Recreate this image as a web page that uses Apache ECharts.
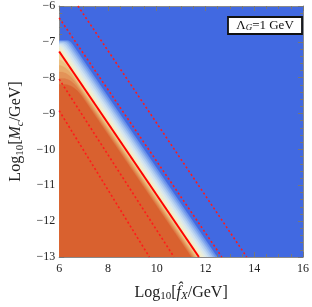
<!DOCTYPE html>
<html>
<head>
<meta charset="utf-8">
<script src="https://cdn.jsdelivr.net/npm/echarts@6/dist/echarts.min.js"></script>
<style>html,body{margin:0;padding:0;background:#fff}#c{width:312px;height:307px}</style>
</head>
<body>
<div id="c"></div>
<script>
// ---- data ----
const xRange = [6, 16];
const yRange = [-13, -6];
// solid red line and dashed red lines (endpoints in data units)
const solidLine = [[6, -7.27], [11.73, -13]];
const dashedUpper2 = [[6.77, -6], [13.69, -13]];
const dashedUpper1 = [[6, -6.33], [12.67, -13]];
const dashedLower1 = [[6, -8.04], [10.71, -13]];
const dashedLower2 = [[6, -8.92], [9.70, -13]];
// contour levels: diagonal offset from the solid line, flat level at the left, corner rounding
const lineIntercept = -1.27;
const contourOffsets = [0.75, 0.66, 0.57, 0.48, 0.39, 0.30, 0.21, 0.12, 0.04, -0.03, -0.08, -0.13, -0.19, -0.25, -0.31];
const contourFlats   = [-6.96, -6.98, -7.00, -7.03, -7.06, -7.09, -7.13, -7.17, -7.22, -7.35, -7.50, -7.66, -7.84, -8.02, -8.19];
const contourRound   = [0.12, 0.12, 0.12, 0.12, 0.12, 0.12, 0.12, 0.12, 0.12, 0.2, 0.25, 0.3, 0.33, 0.35, 0.38];
const contourColors  = ['#6891EA', '#86ABEE', '#A4C3F0', '#BDD6F1', '#D2E4F0', '#E2ECE6', '#EEEFD6', '#F5ECC4',
                        '#F6E3AE', '#F1D497', '#ECC080', '#E8AA6A', '#E39358', '#DE7B46', '#D9612F'];
const backgroundBlue = '#4169E1';
const legendText = ['Λ', 'G', '=1 GeV'];

// ---- build polygons ----
function contourPolygon(D, F, r) {
  const R = lineIntercept;
  const pts = [];
  const xc = R + D - F;
  if (xc <= xRange[0]) {
    pts.push([xRange[0], R + D - xRange[0]]);
  } else {
    const x0 = Math.max(xRange[0], xc - r);
    pts.push([xRange[0], F]);
    const p0 = [x0, F], p1 = [xc, F], p2 = [xc + r, F - r];
    for (let k = 0; k <= 12; k++) {
      const t = k / 12;
      const a = (1 - t) * (1 - t), b = 2 * (1 - t) * t, c = t * t;
      pts.push([a * p0[0] + b * p1[0] + c * p2[0], a * p0[1] + b * p1[1] + c * p2[1]]);
    }
  }
  const xb = R + D - yRange[0];
  if (xb <= xRange[1]) pts.push([xb, yRange[0]]);
  else { pts.push([xRange[1], R + D - xRange[1]]); pts.push([xRange[1], yRange[0]]); }
  pts.push([xRange[0], yRange[0]]);
  return pts;
}

const serif = 'Liberation Serif';
const minus = v => String(v).replace('-', '\u2212');

const chart = echarts.init(document.getElementById('c'));

const tickCommon = {
  axisLine: { show: true, lineStyle: { color: '#8a8a8a', width: 1 } },
  axisTick: { show: true, inside: true, length: 5, lineStyle: { color: '#777' } },
  splitLine: { show: false }
};

function redLine(data, dashed) {
  return {
    type: 'line', data: data, symbol: 'none', silent: true, z: 5, clip: true,
    lineStyle: dashed ? { color: '#FF1A1A', width: 1.6, type: [2, 2.5] } : { color: '#FF0000', width: 2 }
  };
}

const nameRich = {
  s: { fontFamily: serif, fontSize: 11, padding: [8, 0, 0, 0], color: '#222' },
  si: { fontFamily: serif, fontSize: 11, fontStyle: 'italic', padding: [8, 0, 0, 0], color: '#222' },
  i: { fontFamily: serif, fontSize: 16, fontStyle: 'italic', color: '#222' }
};

chart.setOption({
  animation: false,
  backgroundColor: '#fff',
  grid: { left: 45, right: 6, top: 6, bottom: 40, show: true, backgroundColor: backgroundBlue, borderWidth: 0 },
  xAxis: [
    Object.assign({}, tickCommon, {
      type: 'value', min: xRange[0], max: xRange[1], interval: 2, position: 'bottom',
      minorTick: { show: true, splitNumber: 4, length: 3, lineStyle: { color: '#777' } },
      axisLabel: { fontFamily: serif, fontSize: 12, color: '#222', margin: 6 },
      name: 'Log{s|10}[{i|f̂}{si|X}/GeV]', nameLocation: 'middle', nameGap: 26,
      nameTextStyle: { fontFamily: serif, fontSize: 16, color: '#222', rich: nameRich }
    }),
    Object.assign({}, tickCommon, {
      type: 'value', min: xRange[0], max: xRange[1], interval: 2, position: 'top',
      minorTick: { show: true, splitNumber: 4, length: 3, lineStyle: { color: '#777' } },
      axisLabel: { show: false }
    })
  ],
  yAxis: [
    Object.assign({}, tickCommon, {
      type: 'value', min: yRange[0], max: yRange[1], interval: 1, position: 'left',
      minorTick: { show: true, splitNumber: 5, length: 3, lineStyle: { color: '#777' } },
      axisLabel: { fontFamily: serif, fontSize: 12, color: '#222', margin: 4, formatter: minus },
      name: 'Log{s|10}[{i|M}{si|c}/GeV]', nameLocation: 'middle', nameGap: 30, nameRotate: 90,
      nameTextStyle: { fontFamily: serif, fontSize: 16, color: '#222', rich: nameRich }
    }),
    Object.assign({}, tickCommon, {
      type: 'value', min: yRange[0], max: yRange[1], interval: 1, position: 'right',
      minorTick: { show: true, splitNumber: 5, length: 3, lineStyle: { color: '#777' } },
      axisLabel: { show: false }
    })
  ],
  series: [
    {
      type: 'custom', coordinateSystem: 'cartesian2d', clip: true, silent: true, z: 2,
      data: contourOffsets.map((d, i) => [i, 0]),
      renderItem: function (params, api) {
        const i = api.value(0);
        const pts = contourPolygon(contourOffsets[i], contourFlats[i], contourRound[i]).map(p => api.coord(p));
        return { type: 'polygon', shape: { points: pts }, style: { fill: contourColors[i], stroke: contourColors[i], lineWidth: 0.3 } };
      }
    },
    redLine(solidLine, false),
    redLine(dashedUpper2, true),
    redLine(dashedUpper1, true),
    redLine(dashedLower1, true),
    redLine(dashedLower2, true)
  ],
  graphic: [
    { type: 'rect', shape: { x: 228, y: 17, width: 74, height: 17 }, z: 10,
      style: { fill: '#fff', stroke: '#111', lineWidth: 1.8 } },
    { type: 'text', x: 265, y: 25.5, z: 11,
      style: { text: '{a|' + legendText[0] + '}{s|' + legendText[1] + '}{a|' + legendText[2] + '}',
        align: 'center', verticalAlign: 'middle',
        rich: { a: { fontFamily: serif, fontSize: 13, fill: '#111' },
                s: { fontFamily: serif, fontSize: 9, fontStyle: 'italic', fill: '#111', padding: [5, 0, 0, 0] } } } }
  ]
});
</script>
</body>
</html>
